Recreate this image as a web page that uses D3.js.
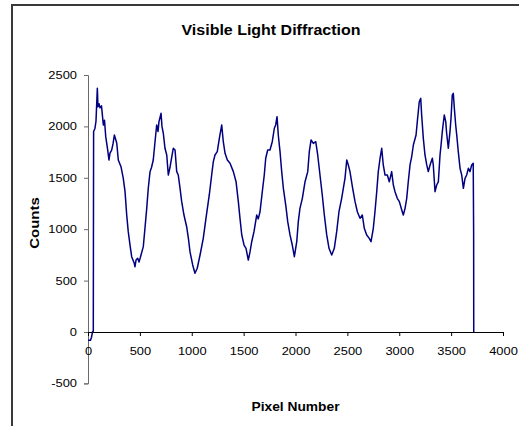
<!DOCTYPE html>
<html>
<head>
<meta charset="utf-8">
<script src="https://cdn.jsdelivr.net/npm/d3@7"></script>
<style>
  html, body { margin: 0; padding: 0; background: #fff; }
  svg { display: block; }
  text { font-family: "Liberation Sans", Arial, sans-serif; fill: #000; }
</style>
</head>
<body>
<svg id="chart" width="519" height="426"></svg>
<script>
// ---- data ----
const chartTitle = "Visible Light Diffraction";
const xTitle = "Pixel Number";
const yTitle = "Counts";
const xTicks = [0, 500, 1000, 1500, 2000, 2500, 3000, 3500, 4000];
const yTicks = [-500, 0, 500, 1000, 1500, 2000, 2500];

const pixelNumber = [
  0,24,34,43,51,54,67,77,90,96,
  106,116,130,148,159,171,190,202,212,228,
  241,254,277,292,318,340,357,373,388,405,
  421,446,453,463,479,492,511,533,549,566,
  581,598,612,629,646,662,675,684,704,713,
  726,742,759,774,790,807,822,839,855,870,
  887,903,925,951,969,983,1009,1031,1053,1080,
  1111,1137,1169,1192,1208,1224,1246,1266,1289,1304,
  1321,1343,1369,1401,1427,1449,1465,1482,1504,1523,
  1545,1562,1578,1600,1626,1641,1658,1680,1699,1713,
  1732,1754,1776,1796,1809,1822,1834,1851,1867,1883,
  1906,1925,1947,1969,1989,2012,2027,2043,2066,2092,
  2118,2133,2150,2172,2195,2214,2236,2258,2278,2301,
  2323,2349,2374,2397,2419,2445,2461,2477,2494,2509,
  2525,2551,2574,2596,2622,2644,2663,2686,2711,2728,
  2750,2766,2783,2798,2815,2831,2846,2863,2885,2904,
  2927,2943,2959,2981,3001,3024,3039,3056,3072,3087,
  3104,3120,3136,3162,3174,3193,3207,3216,3232,3248,
  3265,3280,3297,3319,3328,3345,3361,3377,3393,3403,
  3415,3434,3448,3457,3473,3489,3499,3511,3521,3531,
  3544,3554,3569,3586,3602,3618,3634,3650,3666,3682,
  3698,3713,3717,3718
];
const counts = [
  -80,-80,-50,0,10,1950,1980,2050,2370,2190,
  2220,2180,2200,2014,2060,1900,1770,1673,1740,1770,
  1830,1916,1838,1673,1608,1495,1365,1138,976,846,
  733,668,635,700,717,680,749,830,1009,1203,
  1398,1560,1600,1673,1851,2014,1950,2046,2127,2000,
  1933,1787,1722,1527,1600,1700,1787,1770,1560,1527,
  1400,1268,1138,1024,900,781,652,571,620,749,
  911,1106,1333,1527,1657,1722,1754,1884,2014,1851,
  1738,1673,1641,1560,1462,1268,1106,944,846,814,
  700,781,878,976,1138,1100,1170,1365,1527,1690,
  1770,1770,1851,1982,2014,2095,1916,1754,1560,1398,
  1235,1073,944,846,733,878,1073,1203,1300,1462,
  1560,1754,1868,1835,1851,1722,1527,1333,1138,944,
  814,749,814,976,1170,1300,1398,1495,1673,1625,
  1560,1398,1268,1170,1106,1138,1009,944,911,878,
  1009,1170,1365,1560,1690,1787,1625,1527,1527,1462,
  1560,1430,1365,1300,1268,1187,1138,1203,1300,1462,
  1625,1706,1819,1916,2046,2240,2273,2111,1884,1722,
  1625,1560,1625,1690,1625,1365,1430,1462,1722,1819,
  1949,2111,2046,1933,1787,1949,2079,2305,2322,2176,
  2014,1916,1754,1592,1527,1398,1495,1527,1592,1560,
  1625,1641,960,0
];

// ---- layout ----
const svg = d3.select("#chart");
const plot = { left: 88, right: 503, top: 75, bottom: 383.4 };
const x = d3.scaleLinear().domain([0, 4000]).range([plot.left, plot.right]);
const y = d3.scaleLinear().domain([-500, 2500]).range([plot.bottom, plot.top]);
const STRETCH = 1.17;
const fmt = (d) => String(d); // plain hyphen-minus like the reference

function stretchText(sel, factor) {
  sel.each(function () {
    const w = this.getComputedTextLength();
    d3.select(this).attr("textLength", w * factor).attr("lengthAdjust", "spacingAndGlyphs");
  });
}

// outer chart border (left and top visible)
svg.append("line").attr("x1", 12).attr("y1", 5).attr("x2", 12).attr("y2", 426)
  .attr("stroke", "#3a3a3a").attr("stroke-width", 2);
svg.append("line").attr("x1", 11).attr("y1", 5).attr("x2", 519).attr("y2", 5)
  .attr("stroke", "#3a3a3a").attr("stroke-width", 2);

// y axis
const gy = svg.append("g").attr("transform", `translate(${plot.left},0)`)
  .call(d3.axisLeft(y).tickValues(yTicks).tickSize(4).tickPadding(7).tickFormat(fmt));
gy.select(".domain").attr("stroke", "#6a6a6a");
gy.selectAll(".tick line").attr("stroke", "#6a6a6a");
gy.selectAll(".tick text").attr("font-size", 11).attr("font-family", "Liberation Sans, Arial, sans-serif")
  .attr("fill", "#000");
stretchText(gy.selectAll(".tick text"), STRETCH);

// x axis at y = 0
const gx = svg.append("g").attr("transform", `translate(0,${y(0)})`)
  .call(d3.axisBottom(x).tickValues(xTicks).tickSize(4).tickPadding(11).tickFormat(fmt));
gx.select(".domain").attr("stroke", "#000");
gx.selectAll(".tick line").attr("stroke", "#000");
gx.selectAll(".tick text").attr("font-size", 11).attr("font-family", "Liberation Sans, Arial, sans-serif")
  .attr("fill", "#000");
stretchText(gx.selectAll(".tick text"), STRETCH);

// data line
const line = d3.line().x((d) => x(d[0])).y((d) => y(d[1]));
svg.append("path")
  .datum(d3.zip(pixelNumber, counts))
  .attr("d", line)
  .attr("fill", "none")
  .attr("stroke", "#000080")
  .attr("stroke-width", 1.5)
  .attr("stroke-linejoin", "round");

// titles
const t = svg.append("text").attr("x", 271).attr("y", 34.5).attr("text-anchor", "middle")
  .attr("font-size", 14).attr("font-weight", "bold").text(chartTitle);
t.attr("textLength", 179).attr("lengthAdjust", "spacingAndGlyphs");

const xt = svg.append("text").attr("x", 295.5).attr("y", 411).attr("text-anchor", "middle")
  .attr("font-size", 13).attr("font-weight", "bold").text(xTitle);
xt.attr("textLength", 88).attr("lengthAdjust", "spacingAndGlyphs");

const yt = svg.append("text").attr("transform", "translate(39,223) rotate(-90)")
  .attr("text-anchor", "middle").attr("font-size", 13).attr("font-weight", "bold").text(yTitle);
stretchText(yt, 1.15);
</script>
</body>
</html>
